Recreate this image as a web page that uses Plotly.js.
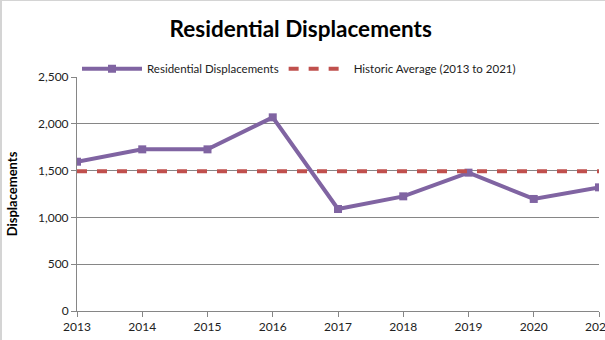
<!DOCTYPE html>
<html>
<head>
<meta charset="utf-8">
<script src="https://cdn.plot.ly/plotly-3.0.1.min.js"></script>
<style>
html,body{margin:0;padding:0;background:#fff;}
#wrap{position:absolute;left:0;top:0;width:605px;height:340px;box-sizing:border-box;border-top:1px solid #d4d4d4;border-left:2px solid #d4d4d4;}
#chart{position:absolute;left:0;top:0;width:605px;height:340px;}
</style>
</head>
<body>
<div id="chart"></div>
<div id="wrap"></div>
<script>
const years = [2013, 2014, 2015, 2016, 2017, 2018, 2019, 2020, 2021];
const displacements = [1595, 1727, 1727, 2069, 1090, 1225, 1478, 1197, 1321];
const historicAverage = [1492, 1492, 1492, 1492, 1492, 1492, 1492, 1492, 1492];
const yTicks = [0, 500, 1000, 1500, 2000, 2500];
const yTickLabels = ["0", "500", "1,000", "1,500", "2,000", "2,500"];

const font = "Lato, 'Open Sans', sans-serif";

const traces = [
  {
    x: years, y: displacements, name: "Residential Displacements",
    type: "scatter", mode: "lines+markers",
    line: {color: "#8064A2", width: 4},
    marker: {symbol: "square", size: 8, color: "#8064A2"}
  },
  {
    x: years, y: historicAverage, name: "Historic Average (2013 to 2021)",
    type: "scatter", mode: "lines",
    line: {color: "#C0504D", width: 4, dash: "10px,10px"}
  }
];

const layout = {
  width: 605, height: 340,
  margin: {l: 77, r: 6, t: 77, b: 29},
  paper_bgcolor: "#fff", plot_bgcolor: "#fff",
  font: {family: font, size: 12, color: "#222"},
  title: {text: "<b>Residential Displacements</b>", font: {family: font, size: 22.5, color: "#000"}, x: 0.497, xanchor: "center", y: 0.915, yanchor: "middle"},
  showlegend: true,
  legend: {orientation: "h", x: 0.0, xanchor: "left", y: 1.035, yanchor: "middle", itemwidth: 60, font: {family: font, size: 11.5, color: "#222"}, bgcolor: "rgba(0,0,0,0)", tracegroupgap: 0},
  xaxis: {
    range: [2013, 2021], tickvals: years, ticktext: years.map(String),
    showgrid: false, zeroline: false, showline: true, linecolor: "#868686", linewidth: 1,
    ticks: "outside", ticklen: 5, tickcolor: "#868686", tickfont: {size: 12, color: "#222"},
    ticklabeloverflow: "allow",
    fixedrange: true
  },
  yaxis: {
    range: [0, 2500], tickvals: yTicks, ticktext: yTickLabels,
    showgrid: true, gridcolor: "#868686", gridwidth: 1, zeroline: false,
    showline: true, linecolor: "#868686", linewidth: 1,
    ticks: "outside", ticklen: 5, tickcolor: "#868686", tickfont: {size: 12, color: "#222"},
    title: {text: "<b>Displacements</b>", font: {family: font, size: 13, color: "#000"}, standoff: 17},
    fixedrange: true
  }
};

Plotly.newPlot("chart", traces, layout, {displayModeBar: false, staticPlot: true});
</script>
</body>
</html>
